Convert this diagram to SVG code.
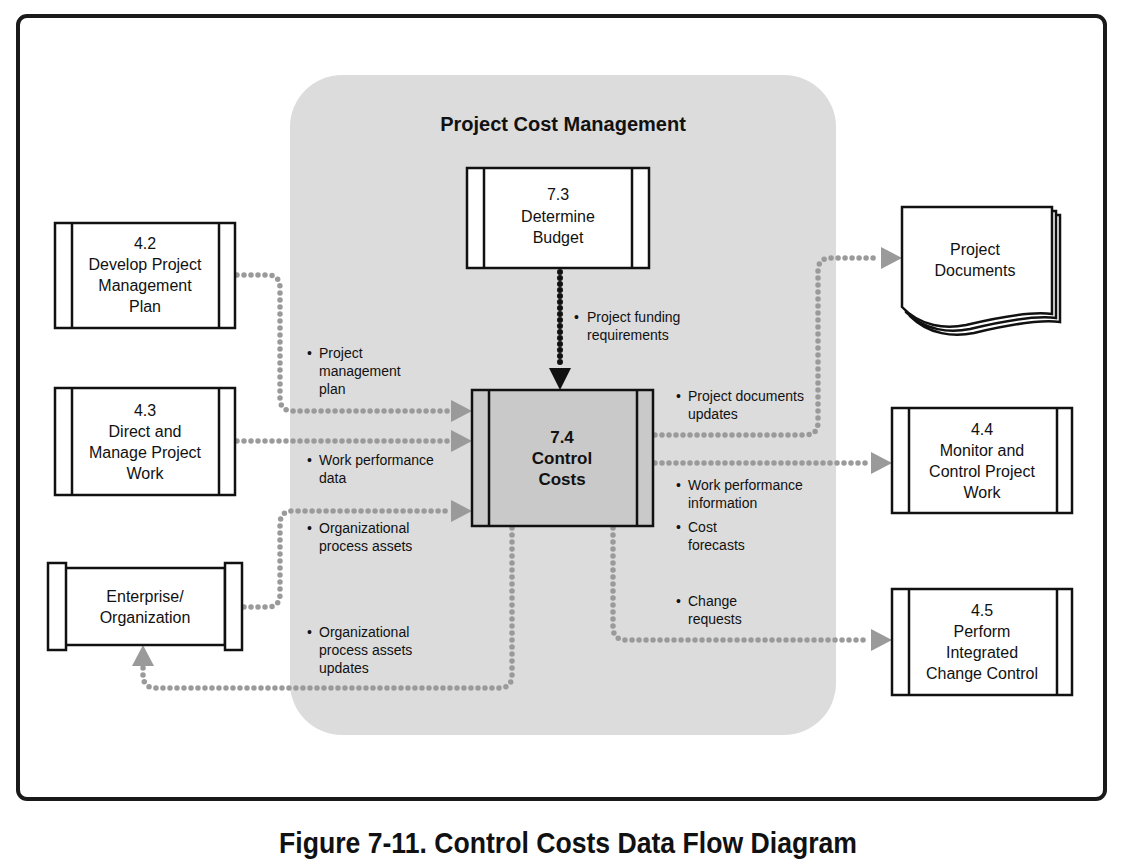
<svg xmlns="http://www.w3.org/2000/svg" width="1137" height="865" viewBox="0 0 1137 865">
<defs>
<style>
.node{fill:#fff;stroke:#111;stroke-width:2.5}
.main{fill:#c9c9c9;stroke:#111;stroke-width:2.5}
.bar{stroke:#111;stroke-width:2.5}
.nt{font-family:"Liberation Sans",Arial,sans-serif;font-size:16px;fill:#111;text-anchor:middle}
.bt{font-family:"Liberation Sans",Arial,sans-serif;font-size:17px;font-weight:bold;fill:#111;text-anchor:middle}
.lb{font-family:"Liberation Sans",Arial,sans-serif;font-size:14px;fill:#111}
.flow{fill:none;stroke:#9a9a9a;stroke-width:5.5;stroke-linecap:round;stroke-dasharray:0 7}
.flowk{fill:none;stroke:#111;stroke-width:6;stroke-linecap:round;stroke-dasharray:0 6}
.ah{fill:#9a9a9a}
.ahk{fill:#111}
</style>
</defs>
<rect x="0" y="0" width="1137" height="865" fill="#fff"/>
<rect id="frame" x="18" y="16" width="1087" height="783" rx="9" fill="#fff" stroke="#1a1a1a" stroke-width="4"/>
<g id="panel">
<rect x="290" y="75" width="546" height="660" rx="52" fill="#dcdcdc"/>
<text x="563" y="131" font-family="Liberation Sans,Arial,sans-serif" font-size="20" font-weight="bold" fill="#111" text-anchor="middle">Project Cost Management</text>
</g>
<g id="connectors">
<path class="flow" d="M237,275 H267 Q280,275 280,288 V398 Q280,411 293,411 H450"/>
<polygon class="ah" points="451,400 472,411 451,422"/>
<path class="flow" d="M237,441 H450"/>
<polygon class="ah" points="451,430 472,441 451,452"/>
<path class="flow" d="M244,607 H267 Q280,607 280,594 V524 Q280,511 293,511 H450"/>
<polygon class="ah" points="451,500 472,511 451,522"/>
<path class="flow" d="M512,528 V675 Q512,688 499,688 H156 Q143,688 143,675 V667"/>
<polygon class="ah" points="132,666 143,645 154,666"/>
<path class="flowk" d="M560,272 V366"/>
<polygon class="ahk" points="549,368 560,390 571,368"/>
<path class="flow" d="M655,435 H805 Q818,435 818,422 V271 Q818,258 831,258 H880"/>
<polygon class="ah" points="881,247 902,258 881,269"/>
<path class="flow" d="M655,463 H870"/>
<polygon class="ah" points="871,452 892,463 871,474"/>
<path class="flow" d="M613,528 V627 Q613,640 626,640 H870"/>
<polygon class="ah" points="871,629 892,640 871,651"/>
</g>
<g id="labels">
<text class="lb" x="307" y="358"><tspan>•</tspan><tspan x="319">Project</tspan><tspan x="319" y="376">management</tspan><tspan x="319" y="394">plan</tspan></text>
<text class="lb" x="307" y="465"><tspan>•</tspan><tspan x="319">Work performance</tspan><tspan x="319" y="483">data</tspan></text>
<text class="lb" x="307" y="533"><tspan>•</tspan><tspan x="319">Organizational</tspan><tspan x="319" y="551">process assets</tspan></text>
<text class="lb" x="307" y="637"><tspan>•</tspan><tspan x="319">Organizational</tspan><tspan x="319" y="655">process assets</tspan><tspan x="319" y="673">updates</tspan></text>
<text class="lb" x="574" y="322"><tspan>•</tspan><tspan x="587">Project funding</tspan><tspan x="587" y="340">requirements</tspan></text>
<text class="lb" x="676" y="401"><tspan>•</tspan><tspan x="688">Project documents</tspan><tspan x="688" y="419">updates</tspan></text>
<text class="lb" x="676" y="490"><tspan>•</tspan><tspan x="688">Work performance</tspan><tspan x="688" y="508">information</tspan></text>
<text class="lb" x="676" y="532"><tspan>•</tspan><tspan x="688">Cost</tspan><tspan x="688" y="550">forecasts</tspan></text>
<text class="lb" x="676" y="606"><tspan>•</tspan><tspan x="688">Change</tspan><tspan x="688" y="624">requests</tspan></text>
</g>
<g id="n73">
<rect class="node" x="467" y="168" width="182" height="100"/>
<line class="bar" x1="484" y1="168" x2="484" y2="268"/>
<line class="bar" x1="632" y1="168" x2="632" y2="268"/>
<text class="nt" x="558" y="200">7.3</text>
<text class="nt" x="558" y="222">Determine</text>
<text class="nt" x="558" y="243">Budget</text>
</g>
<g id="n74">
<rect class="main" x="472" y="390" width="181" height="136"/>
<line class="bar" x1="489" y1="390" x2="489" y2="526"/>
<line class="bar" x1="637" y1="390" x2="637" y2="526"/>
<text class="bt" x="562" y="443">7.4</text>
<text class="bt" x="562" y="464">Control</text>
<text class="bt" x="562" y="485">Costs</text>
</g>
<g id="n42">
<rect class="node" x="55" y="223" width="180" height="105"/>
<line class="bar" x1="72" y1="223" x2="72" y2="328"/>
<line class="bar" x1="219" y1="223" x2="219" y2="328"/>
<text class="nt" x="145" y="249">4.2</text>
<text class="nt" x="145" y="270">Develop Project</text>
<text class="nt" x="145" y="291">Management</text>
<text class="nt" x="145" y="312">Plan</text>
</g>
<g id="n43">
<rect class="node" x="55" y="388" width="180" height="107"/>
<line class="bar" x1="72" y1="388" x2="72" y2="495"/>
<line class="bar" x1="219" y1="388" x2="219" y2="495"/>
<text class="nt" x="145" y="416">4.3</text>
<text class="nt" x="145" y="437">Direct and</text>
<text class="nt" x="145" y="458">Manage Project</text>
<text class="nt" x="145" y="479">Work</text>
</g>
<g id="ent">
<rect class="node" x="65" y="568" width="160" height="77"/>
<rect class="node" x="48" y="563" width="18" height="87"/>
<rect class="node" x="225" y="563" width="17" height="87"/>
<text class="nt" x="145" y="602">Enterprise/</text>
<text class="nt" x="145" y="623">Organization</text>
</g>
<g id="docs">
<path class="node" d="M910,215 H1060 V322 C1039,319 999,327 974,333 C954,337 929,335 910,316 Z"/>
<path class="node" d="M906,211 H1056 V318 C1035,315 995,323 970,329 C950,333 925,331 906,312 Z"/>
<path class="node" d="M902,207 H1052 V314 C1031,311 991,319 966,325 C946,329 921,327 902,307 Z"/>
<text class="nt" x="975" y="255">Project</text>
<text class="nt" x="975" y="276">Documents</text>
</g>
<g id="n44">
<rect class="node" x="892" y="408" width="180" height="105"/>
<line class="bar" x1="909" y1="408" x2="909" y2="513"/>
<line class="bar" x1="1057" y1="408" x2="1057" y2="513"/>
<text class="nt" x="982" y="435">4.4</text>
<text class="nt" x="982" y="456">Monitor and</text>
<text class="nt" x="982" y="477">Control Project</text>
<text class="nt" x="982" y="498">Work</text>
</g>
<g id="n45">
<rect class="node" x="892" y="589" width="180" height="106"/>
<line class="bar" x1="909" y1="589" x2="909" y2="695"/>
<line class="bar" x1="1057" y1="589" x2="1057" y2="695"/>
<text class="nt" x="982" y="616">4.5</text>
<text class="nt" x="982" y="637">Perform</text>
<text class="nt" x="982" y="658">Integrated</text>
<text class="nt" x="982" y="679">Change Control</text>
</g>
<text id="caption" x="568" y="853" font-family="Liberation Sans,Arial,sans-serif" font-size="30" font-weight="bold" fill="#111" text-anchor="middle" textLength="578" lengthAdjust="spacingAndGlyphs">Figure 7-11. Control Costs Data Flow Diagram</text>
</svg>
